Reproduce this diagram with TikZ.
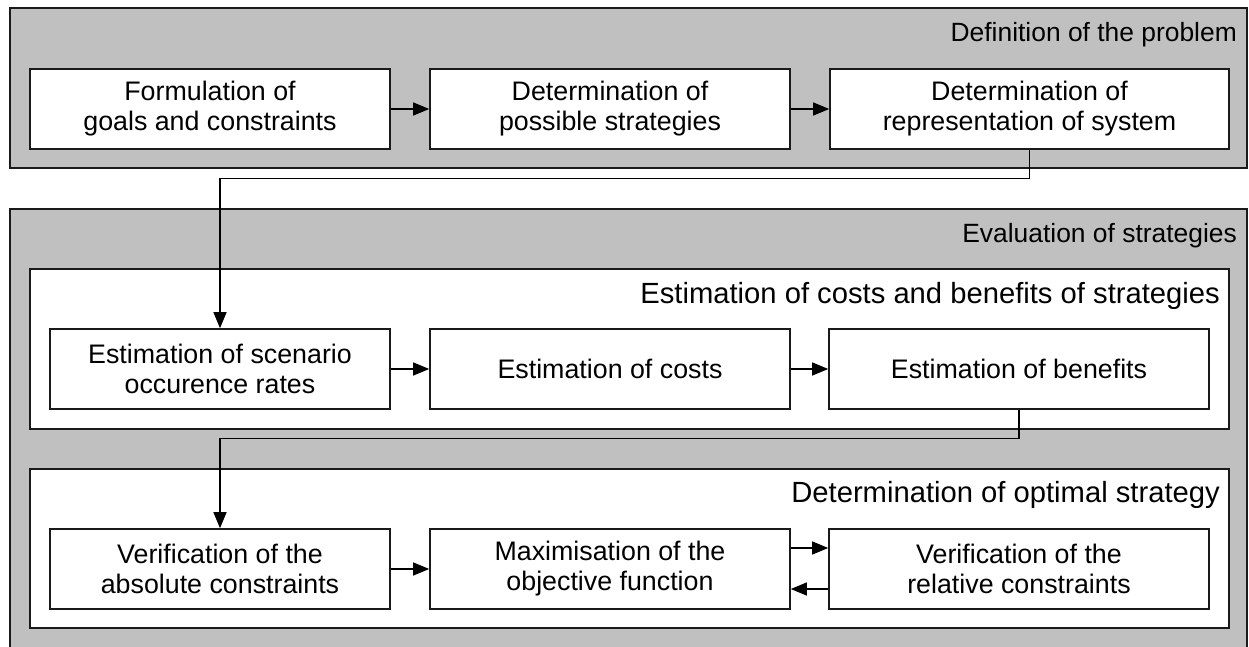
\documentclass[tikz,border=0pt]{standalone}
\usepackage{fontspec}
\setmainfont{Liberation Sans}
\usetikzlibrary{arrows.meta,positioning}
\definecolor{panelgray}{HTML}{C0C0C0}
\definecolor{edge}{HTML}{1A1A1A}
\tikzset{
  panel/.style={draw=edge,line width=1.6pt,fill=panelgray},
  subpanel/.style={draw=edge,line width=1.6pt,fill=white},
  stepbox/.style={draw=edge,line width=1.6pt,fill=white,align=center,
    font=\fontsize{26.8}{30}\selectfont,inner sep=0pt},
  plabel/.style={anchor=base east,font=\fontsize{26.4}{30}\selectfont,inner sep=0pt},
  slabel/.style={anchor=base east,font=\fontsize{29.2}{32}\selectfont,inner sep=0pt},
  conn/.style={draw=black,line width=1.1pt,-{Triangle[length=16pt,width=13pt]}},
}
\begin{document}
\begin{tikzpicture}[x=1pt,y=-1pt]
\useasboundingbox (0,0) rectangle (1249,647);
\clip (0,0) rectangle (1249,647);
\fill[white] (0,0) rectangle (1249,647);
% top panel
\draw[panel] (10,8) rectangle (1247,168);
\node[plabel] (lblA) at (1237,42) {Definition of the problem};
\node[stepbox,minimum width=360pt,minimum height=80pt] (f1) at (210,109) {Formulation of\\goals and constraints};
\node[stepbox,minimum width=360pt,minimum height=80pt] (f2) at (610,109) {Determination of\\possible strategies};
\node[stepbox,minimum width=399pt,minimum height=80pt] (f3) at (1029.5,109) {Determination of\\representation of system};
\draw[conn] (f1) -- (f2);
\draw[conn] (f2) -- (f3);
% bottom panel
\draw[panel] (10,209) rectangle (1247,680);
\node[plabel] (lblB) at (1237,242) {Evaluation of strategies};
% sub panel 1
\draw[subpanel] (30,269) rectangle (1229,429);
\node[slabel] (lblC) at (1220,303) {Estimation of costs and benefits of strategies};
\node[stepbox,minimum width=340pt,minimum height=80pt] (e1) at (220,369) {Estimation of scenario\\occurence rates};
\node[stepbox,minimum width=360pt,minimum height=80pt] (e2) at (610,369) {Estimation of costs};
\node[stepbox,minimum width=380pt,minimum height=80pt] (e3) at (1019,369) {Estimation of benefits};
\draw[conn] (e1) -- (e2);
\draw[conn] (e2) -- (e3);
% sub panel 2
\draw[subpanel] (30,469) rectangle (1229,628);
\node[slabel] (lblD) at (1220,502) {Determination of optimal strategy};
\node[stepbox,minimum width=340pt,minimum height=80pt] (v1) at (220,569) {Verification of the\\absolute constraints};
\node[stepbox,minimum width=360pt,minimum height=80pt] (v2) at (610,569) {Maximisation of the\\objective function};
\node[stepbox,minimum width=380pt,minimum height=80pt] (v3) at (1019,569) {Verification of the\\relative constraints};
\draw[conn] (v1) -- (v2);
\draw[conn] ([yshift=21pt]v2.east) -- ([yshift=21pt]v3.west);
\draw[conn] ([yshift=-20pt]v3.west) -- ([yshift=-20pt]v2.east);
% long connectors
\draw[conn] (f3.south) -- ++(0,29) -| (e1.north);
\draw[conn] (e3.south) -- ++(0,29) -| (v1.north);
\end{tikzpicture}
\end{document}
